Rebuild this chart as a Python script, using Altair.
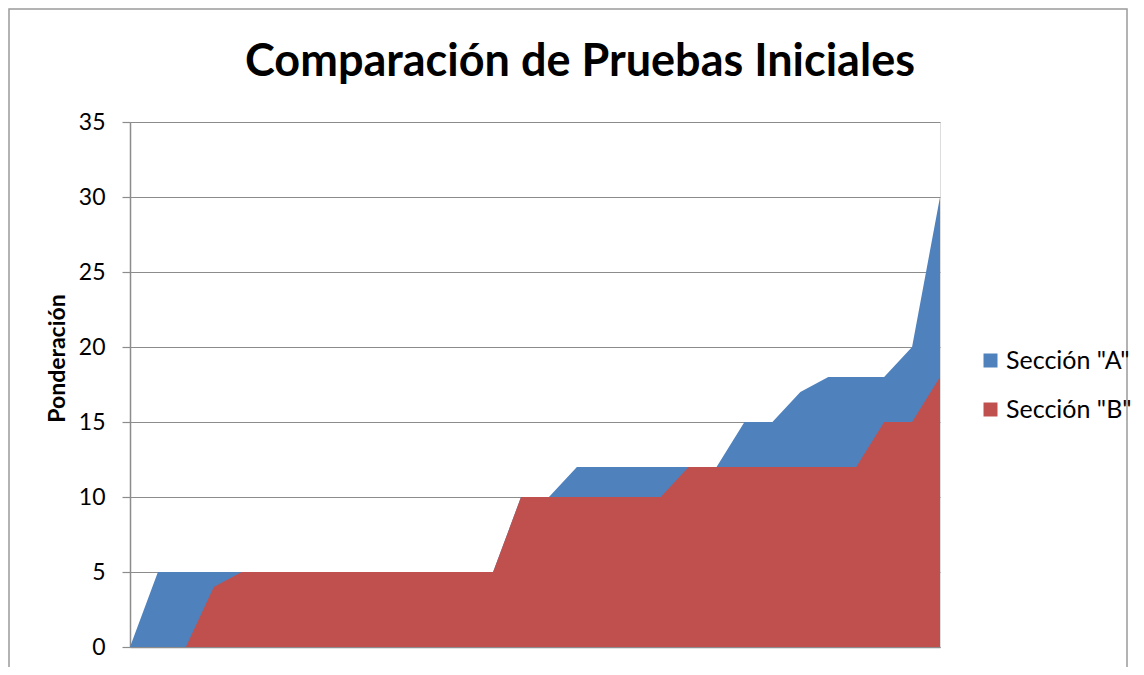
import altair as alt
import pandas as pd

series_a = [0, 5, 5, 5, 5, 5, 5, 5, 5, 5, 5, 5, 5, 5, 10, 10, 12, 12, 12, 12, 12, 12, 15, 15, 17, 18, 18, 18, 20, 30]
series_b = [0, 0, 0, 4, 5, 5, 5, 5, 5, 5, 5, 5, 5, 5, 10, 10, 10, 10, 10, 10, 12, 12, 12, 12, 12, 12, 12, 15, 15, 18]
names = ['Sección "A"', 'Sección "B"']
colors = ["#4F81BD", "#C0504D"]
y_ticks = [0, 5, 10, 15, 20, 25, 30, 35]
title_text = ["Comparación de Pruebas Iniciales"]

n = len(series_a)
df_a = pd.DataFrame({"i": list(range(n)), "v": series_a, "s": names[0]})
df_b = pd.DataFrame({"i": list(range(n)), "v": series_b, "s": names[1]})

FONT = "Lato"
GRAY = "#8c8c8c"

x_enc = alt.X("i:Q", scale=alt.Scale(domain=[0, n - 1], nice=False, zero=False),
              axis=alt.Axis(labels=False, ticks=False, grid=False, title=None,
                            domainColor=GRAY, domainWidth=1.5))
y_axis = alt.Axis(values=y_ticks, grid=True, gridColor=GRAY, gridWidth=1.2,
                  tickColor=GRAY, tickSize=8, tickWidth=1.2,
                  domainColor=GRAY, domainWidth=1.5,
                  labelFont=FONT, labelFontSize=23, labelColor="black",
                  labelPadding=17,
                  title="Ponderación", titleFont=FONT, titleFontSize=23,
                  titleFontWeight="bold", titleColor="black",
                  titleX=-73, titleY=236, titleAngle=270,
                  titleAlign="center", titleBaseline="middle")
y_scale = alt.Scale(domain=[0, 35], nice=False)
color_enc = alt.Color("s:N", scale=alt.Scale(domain=names, range=colors),
                      legend=alt.Legend(title=None, orient="none", legendX=848, legendY=226,
                                        symbolType="square", symbolSize=196,
                                        symbolStrokeWidth=0, symbolOpacity=1,
                                        labelFont=FONT, labelFontSize=25, labelColor="black",
                                        rowPadding=23, labelOffset=3))

frame = alt.Chart(pd.DataFrame({"k": [0]})).mark_rect(
    fill=None, stroke="#9a9a9a", strokeWidth=1.5
).encode(x=alt.value(-121), x2=alt.value(997), y=alt.value(-113), y2=alt.value(560))

title = alt.Chart(pd.DataFrame({"t": title_text})).mark_text(
    font=FONT, fontSize=45, fontWeight="bold", color="black",
    align="center", baseline="middle"
).encode(text="t:N", x=alt.value(450), y=alt.value(-60))

area_a = alt.Chart(df_a).mark_area(opacity=1, interpolate="linear").encode(
    x=x_enc, y=alt.Y("v:Q", stack=None, scale=y_scale, axis=y_axis), color=color_enc)
area_b = alt.Chart(df_b).mark_area(opacity=1, interpolate="linear").encode(
    x=x_enc, y=alt.Y("v:Q", stack=None, scale=y_scale, axis=y_axis), color=color_enc)

chart = alt.layer(frame, title, area_a, area_b).properties(
    width=810, height=525,
    padding={"left": 122, "top": 114, "right": 196, "bottom": 20},
    autosize=alt.AutoSizeParams(type="none"),
).configure_view(stroke=None).configure(background="white")

chart.save("out.html", embed_options={"renderer": "svg", "actions": False})
